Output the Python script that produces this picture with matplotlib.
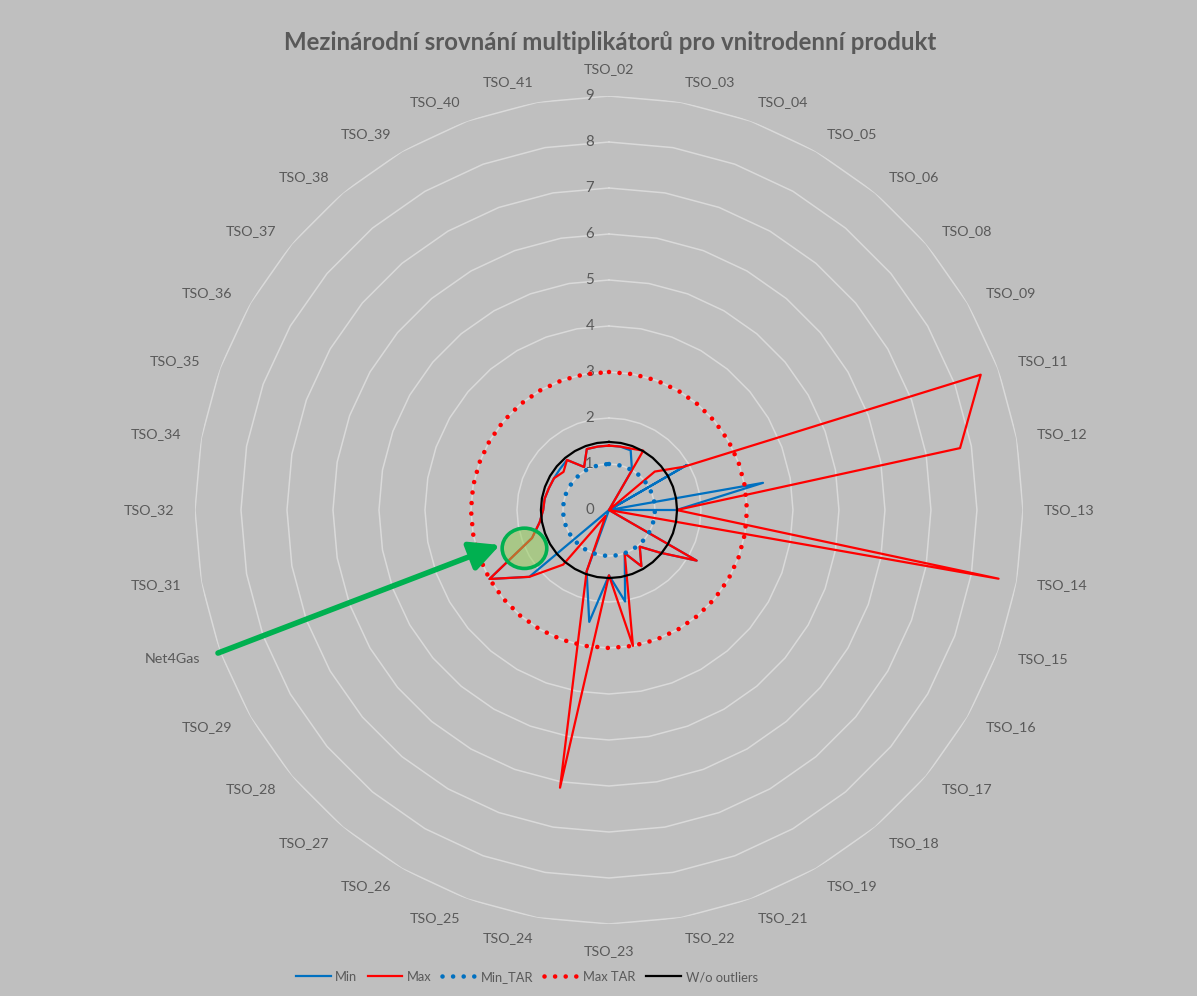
import numpy as np
import matplotlib
matplotlib.use('Agg')
import matplotlib.pyplot as plt
from matplotlib.patches import Ellipse
from matplotlib.transforms import offset_copy

plt.rcParams['font.family'] = ['Lato', 'DejaVu Sans']

categories = ['TSO_02', 'TSO_03', 'TSO_04', 'TSO_05', 'TSO_06', 'TSO_08', 'TSO_09',
              'TSO_11', 'TSO_12', 'TSO_13', 'TSO_14', 'TSO_15', 'TSO_16', 'TSO_17',
              'TSO_18', 'TSO_19', 'TSO_21', 'TSO_22', 'TSO_23', 'TSO_24', 'TSO_25',
              'TSO_26', 'TSO_27', 'TSO_28', 'TSO_29', 'Net4Gas', 'TSO_31', 'TSO_32',
              'TSO_34', 'TSO_35', 'TSO_36', 'TSO_37', 'TSO_38', 'TSO_39', 'TSO_40',
              'TSO_41']

min_vals = [1.40, 1.40, 1.38, 1.00, 0.00, 0.00, 1.95, 0.00, 3.40, 1.47, 0.00, 0.00,
            2.20, 1.44, 1.04, 1.41, 1.00, 2.02, 1.42, 2.47, 1.42, 0.00, 0.00, 2.26,
            3.00, 1.78, 1.53, 1.43, 1.42, 1.39, 1.38, 1.39, 1.42, 1.08, 1.41, 1.40]

max_vals = [1.40, 1.40, 1.42, 1.49, 0.00, 1.30, 1.88, 8.60, 7.75, 1.47, 8.60, 0.00,
            2.20, 1.44, 1.04, 1.41, 1.00, 3.00, 1.42, 6.13, 1.42, 0.15, 1.55, 2.26,
            3.00, 1.78, 1.53, 1.43, 1.42, 1.39, 1.38, 1.29, 1.42, 1.08, 1.41, 1.40]

min_tar = [1.0] * len(categories)
max_tar = [3.0] * len(categories)
wo_outliers = [1.48] * len(categories)

r_ticks = list(range(10))

title = 'Mezinárodní srovnání multiplikátorů pro vnitrodenní produkt'

bg = '#BFBFBF'
grid_col = '#DADADA'
text_col = '#595959'
blue = '#0070C0'
red = '#FF0000'
green = '#00B050'

n = len(categories)
theta = np.arange(n) * 2 * np.pi / n
theta_c = np.append(theta, theta[0])


def closed(v):
    return np.append(v, v[0])


fig = plt.figure(figsize=(11.97, 9.96), dpi=100)
fig.patch.set_facecolor(bg)

rect = [0.1629, 0.0723, 0.6917, 0.8313]
ax = fig.add_axes(rect, projection='polar')
ax.set_theta_zero_location('N')
ax.set_theta_direction(-1)
ax.set_ylim(0, 9)
ax.patch.set_alpha(0)
ax.grid(False)
ax.spines['polar'].set_visible(False)
ax.set_xticks([])
ax.set_yticks([])

# polygonal value gridlines like a spreadsheet radar chart
for k in r_ticks[1:]:
    ax.plot(theta_c, [k] * (n + 1), color=grid_col, lw=1.1, zorder=1)

dot = (0, (0.01, 2.3))
ax.plot(theta_c, closed(min_vals), color=blue, lw=1.6, zorder=3, label='Min')
ax.plot(theta_c, closed(max_vals), color=red, lw=1.6, zorder=4, label='Max')
ax.plot(theta_c, closed(min_tar), color=blue, lw=3.3, ls=dot,
        dash_capstyle='round', zorder=5, label='Min_TAR')
ax.plot(theta_c, closed(max_tar), color=red, lw=3.3, ls=dot,
        dash_capstyle='round', zorder=6, label='Max TAR')
ax.plot(theta_c, closed(wo_outliers), color='black', lw=1.6, zorder=7,
        label='W/o outliers')

# category labels just outside the outer ring
for t, name in zip(theta, categories):
    s, c = np.sin(t), np.cos(t)
    if abs(s) < 0.05:
        ha = 'center'
        va = 'bottom' if c > 0 else 'top'
    else:
        ha = 'left' if s > 0 else 'right'
        va = 'center'
    ax.text(t, 9.45, name, ha=ha, va=va, fontsize=10.3, color=text_col)

# value labels along the vertical axis
tick_tr = offset_copy(ax.transData, fig=fig, x=-15, y=0, units='dots')
for k in r_ticks:
    ax.text(0, k, str(k), transform=tick_tr, ha='right', va='center',
            fontsize=10.8, color=text_col)

fig.text(0.5096, 1 - 43 / 996, title, ha='center', va='center',
         fontsize=17.3, fontweight='bold', color=text_col)

# highlight of the Net4Gas point
ann = fig.add_axes(rect)
ann.set_xlim(-9, 9)
ann.set_ylim(-9, 9)
ann.axis('off')
ann.annotate('', xy=(-2.37, -0.76), xytext=(-8.5, -3.11),
             arrowprops=dict(arrowstyle='-|>,head_length=0.9,head_width=0.45',
                             mutation_scale=20, color=green, lw=4.0,
                             shrinkA=0, shrinkB=0))
ann.add_patch(Ellipse((-1.837, -0.833), 0.97, 0.876, facecolor='#92D050',
                      alpha=0.5, edgecolor='none'))
ann.add_patch(Ellipse((-1.837, -0.833), 0.97, 0.876, facecolor='none',
                      edgecolor=green, lw=2.6))

handles, labels = ax.get_legend_handles_labels()
leg = fig.legend(handles, labels, loc='center', bbox_to_anchor=(0.44, 1 - 977 / 996),
                 ncol=5, frameon=False, fontsize=9.3, handlelength=2.7,
                 handletextpad=0.35, columnspacing=0.8)
for txt in leg.get_texts():
    txt.set_color(text_col)

fig.savefig('out.png', dpi=100, facecolor=bg)
